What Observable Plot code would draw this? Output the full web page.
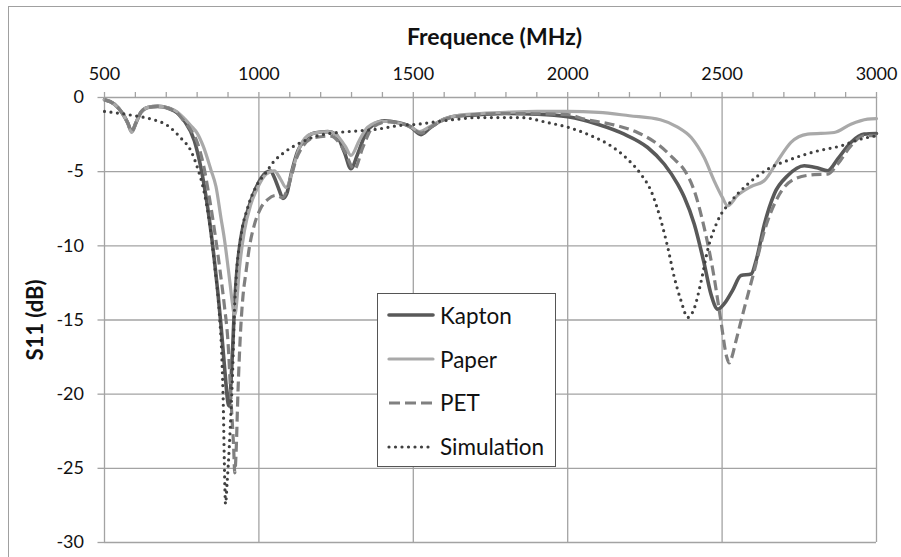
<!DOCTYPE html>
<html>
<head>
<meta charset="utf-8">
<script src="https://cdn.jsdelivr.net/npm/d3@7"></script>
<script src="https://cdn.jsdelivr.net/npm/@observablehq/plot@0.6"></script>
<style>
  html, body { margin: 0; padding: 0; background: #fff; }
  #wrap { position: relative; width: 901px; height: 557px; overflow: hidden; font-family: Lato, "Open Sans", sans-serif; }
  #border { position: absolute; left: 8px; top: 6px; width: 1000px; height: 1000px; border: 1.3px solid #a0a0a0; pointer-events: none; }
  #chart { position: absolute; left: 0; top: 0; }
  #legend { position: absolute; left: 377px; top: 293px; width: 177px; height: 172px; border: 1.3px solid #555; background: #fff; }
  .item { position: absolute; left: 0; height: 30px; display: flex; align-items: center; }
  .item svg { margin-left: 9px; }
  .item span { margin-left: 5px; font-size: 22.5px; color: #111; }
</style>
</head>
<body>
<div id="wrap">
  <div id="chart"></div>
  <div id="border"></div>
  <div id="legend"></div>
</div>
<script>
// ---- data ----
const xTitle = "Frequence (MHz)";
const yTitle = "S11 (dB)";
const xTicks = [500, 1000, 1500, 2000, 2500, 3000];
const xMinorTicks = [600, 700, 800, 900, 1100, 1200, 1300, 1400, 1600, 1700, 1800, 1900, 2100, 2200, 2300, 2400, 2600, 2700, 2800, 2900];
const yTicks = [0, -5, -10, -15, -20, -25, -30];
const seriesNames = ["Kapton", "Paper", "PET", "Simulation"];

const kaptonFreq = [500, 532, 559, 575, 588, 602, 618, 640, 672, 726, 758, 791, 812, 834, 856, 877, 890, 900, 904, 910, 915, 920, 926, 942, 964, 991, 1023, 1038, 1050, 1065, 1078, 1090, 1104, 1126, 1147, 1179, 1223, 1250, 1277, 1298, 1320, 1347, 1374, 1406, 1449, 1492, 1525, 1557, 1600, 1644, 1708, 1795, 1903, 2000, 2097, 2183, 2259, 2313, 2356, 2378, 2410, 2442, 2464, 2486, 2507, 2534, 2561, 2594, 2610, 2637, 2669, 2712, 2766, 2810, 2842, 2874, 2917, 2960, 3000];
const kaptonS11 = [-0.15, -0.45, -1.1, -1.7, -2.3, -1.7, -1.0, -0.67, -0.6, -0.9, -1.57, -2.92, -4.72, -7.4, -11.0, -15.3, -18.5, -20.6, -20.8, -19.0, -16.9, -14.5, -12.4, -9.4, -7.6, -6.07, -5.06, -4.95, -5.4, -6.2, -6.8, -6.5, -5.2, -3.6, -2.9, -2.4, -2.3, -2.5, -3.7, -4.8, -3.8, -2.36, -1.8, -1.57, -1.69, -2.0, -2.5, -2.0, -1.46, -1.23, -1.17, -1.08, -1.12, -1.3, -1.8, -2.47, -3.37, -4.5, -5.84, -6.74, -8.54, -11.2, -13.26, -14.27, -13.9, -13.0, -12.0, -11.9, -11.0, -8.54, -6.5, -5.28, -4.6, -4.76, -4.94, -4.16, -3.03, -2.47, -2.43];

const paperFreq = [500, 532, 559, 575, 588, 602, 618, 640, 672, 726, 758, 780, 800, 820, 845, 861, 877, 888, 904, 915, 920, 925, 937, 953, 974, 996, 1023, 1050, 1070, 1088, 1095, 1109, 1131, 1169, 1223, 1255, 1280, 1298, 1325, 1352, 1400, 1450, 1490, 1520, 1555, 1600, 1650, 1700, 1800, 1900, 2000, 2100, 2200, 2300, 2356, 2400, 2421, 2442, 2474, 2500, 2518, 2550, 2594, 2637, 2680, 2723, 2777, 2863, 2917, 2971, 3000];
const paperS11 = [-0.15, -0.45, -1.1, -1.7, -2.35, -1.7, -1.0, -0.67, -0.6, -0.85, -1.4, -1.9, -2.4, -3.3, -4.9, -6.0, -8.1, -9.5, -12.1, -14.0, -14.7, -14.4, -11.5, -9.0, -7.2, -6.07, -5.17, -4.94, -5.5, -6.07, -5.9, -4.9, -3.4, -2.45, -2.3, -2.6, -3.3, -3.9, -2.9, -2.0, -1.6, -1.7, -1.95, -2.3, -1.95, -1.45, -1.2, -1.1, -1.0, -0.94, -0.94, -1.0, -1.23, -1.5, -2.0, -2.7, -3.3, -4.05, -5.6, -6.7, -7.3, -6.6, -6.0, -5.6, -4.27, -3.03, -2.47, -2.36, -1.8, -1.46, -1.42];

const petFreq = [500, 532, 559, 575, 588, 602, 618, 640, 672, 726, 758, 780, 800, 820, 840, 860, 875, 888, 900, 910, 918, 922, 926, 932, 940, 948, 958, 970, 985, 1005, 1030, 1055, 1077, 1090, 1104, 1120, 1136, 1179, 1233, 1277, 1309, 1336, 1369, 1417, 1482, 1525, 1557, 1600, 1650, 1700, 1800, 1900, 2000, 2054, 2140, 2226, 2291, 2345, 2378, 2410, 2442, 2474, 2496, 2515, 2523, 2530, 2545, 2572, 2604, 2637, 2680, 2734, 2799, 2842, 2874, 2917, 2960, 3000];
const petS11 = [-0.15, -0.45, -1.1, -1.7, -2.3, -1.7, -1.0, -0.67, -0.6, -0.9, -1.6, -2.2, -3.0, -4.5, -6.8, -9.5, -11.8, -14.0, -16.5, -20.5, -23.5, -25.3, -24.0, -20.0, -16.0, -13.5, -11.8, -10.0, -8.6, -7.5, -6.85, -6.6, -6.75, -6.3, -5.4, -4.2, -3.5, -2.7, -2.6, -3.6, -4.85, -3.4, -2.0, -1.64, -1.86, -2.4, -2.0, -1.5, -1.25, -1.15, -1.08, -1.1, -1.15, -1.46, -1.8, -2.36, -3.14, -4.16, -4.9, -6.3, -8.77, -12.1, -15.06, -17.5, -17.9, -17.6, -16.4, -14.2, -11.7, -9.0, -6.74, -5.5, -5.2, -5.17, -4.5, -3.26, -2.58, -2.58];

const simFreq = [500, 553, 597, 651, 705, 748, 780, 802, 823, 839, 856, 872, 880, 885, 888, 892, 897, 904, 910, 915, 920, 927, 942, 964, 991, 1023, 1045, 1082, 1136, 1190, 1255, 1320, 1385, 1449, 1514, 1579, 1644, 1708, 1849, 1935, 2000, 2076, 2140, 2194, 2237, 2270, 2302, 2324, 2345, 2367, 2389, 2410, 2432, 2453, 2486, 2529, 2583, 2648, 2723, 2810, 2885, 2950, 3000];
const simS11 = [-0.94, -1.08, -1.23, -1.45, -1.9, -2.75, -3.6, -4.8, -6.4, -8.3, -11.2, -14.6, -17.5, -21.0, -24.5, -27.4, -26.0, -23.6, -21.0, -18.5, -14.8, -12.0, -9.3, -7.4, -6.0, -5.06, -4.4, -3.7, -3.03, -2.58, -2.36, -2.25, -2.13, -1.9, -1.8, -1.62, -1.46, -1.35, -1.35, -1.69, -2.0, -2.58, -3.26, -4.16, -5.17, -6.3, -8.3, -10.1, -12.1, -13.7, -14.83, -14.2, -12.4, -10.3, -8.3, -7.0, -5.84, -4.83, -4.16, -3.6, -3.26, -2.8, -2.58];

// ---- styles ----
const styles = {
  Kapton:     {stroke: "#595959", strokeWidth: 3.6, dash: null, cap: "round"},
  Paper:      {stroke: "#a9a9a9", strokeWidth: 3.2, dash: null, cap: "round"},
  PET:        {stroke: "#808080", strokeWidth: 3.2, dash: "10,5", cap: "butt"},
  Simulation: {stroke: "#404040", strokeWidth: 3.2, dash: "0,6.5", cap: "round"}
};

const table = (fs, vs) => fs.map((f, i) => ({f, v: vs[i]}));
const series = {
  Kapton: table(kaptonFreq, kaptonS11),
  Paper: table(paperFreq, paperS11),
  PET: table(petFreq, petS11),
  Simulation: table(simFreq, simS11)
};

const gridColor = "#a3a3a3";
const lineMark = (name) => {
  const s = styles[name];
  return Plot.line(series[name], {
    x: "f", y: "v", curve: "monotone-x",
    stroke: s.stroke, strokeWidth: s.strokeWidth,
    strokeDasharray: s.dash || undefined, strokeLinecap: s.cap, strokeLinejoin: "round"
  });
};

const chart = Plot.plot({
  width: 901, height: 557,
  marginLeft: 104, marginRight: 25, marginTop: 97, marginBottom: 15,
  style: {fontFamily: "Lato, 'Open Sans', sans-serif", background: "transparent", color: "#111"},
  x: {type: "linear", domain: [500, 3000], axis: null},
  y: {type: "linear", domain: [-30, 0], axis: null},
  marks: [
    Plot.gridY(yTicks, {stroke: gridColor, strokeOpacity: 1, strokeWidth: 1.3}),
    Plot.gridX(xTicks, {stroke: gridColor, strokeOpacity: 1, strokeWidth: 1.3}),
    Plot.axisX(xMinorTicks, {anchor: "top", tickSize: 6, text: null, stroke: gridColor, strokeWidth: 1.3, strokeOpacity: 1, label: null}),
    Plot.axisX(xTicks, {anchor: "top", tickSize: 6, tickPadding: 12, fontSize: 18, tickFormat: d => String(d), stroke: gridColor, strokeWidth: 1.3, strokeOpacity: 1, label: null, fill: "#111"}),
    Plot.axisY(yTicks, {anchor: "left", tickSize: 6.5, tickPadding: 14, fontSize: 18, tickFormat: d => String(d), stroke: gridColor, strokeWidth: 1.3, strokeOpacity: 1, label: null, fill: "#111"}),
    lineMark("Kapton"),
    lineMark("Paper"),
    lineMark("PET"),
    lineMark("Simulation"),
    Plot.text([xTitle], {frameAnchor: "top", dy: -60, dx: 4, fontSize: 23, fontWeight: "bold", fill: "#111", lineAnchor: "middle"}),
    Plot.text([yTitle], {frameAnchor: "left", dx: -69, rotate: -90, fontSize: 22, fontWeight: "bold", fill: "#111", lineAnchor: "middle", textAnchor: "middle"})
  ]
});
document.getElementById("chart").appendChild(chart);

// ---- legend ----
const legend = document.getElementById("legend");
const tops = [6, 50, 93.5, 137.5];
seriesNames.forEach((name, i) => {
  const s = styles[name];
  const item = document.createElement("div");
  item.className = "item";
  item.style.top = tops[i] + "px";
  const dash = name === "PET" ? "11,5" : (s.dash || "");
  item.innerHTML = `<svg width="48" height="10"><line x1="2" y1="5" x2="46" y2="5" stroke="${s.stroke}" stroke-width="${s.strokeWidth}" stroke-dasharray="${dash}" stroke-linecap="${s.cap}"/></svg><span>${name}</span>`;
  legend.appendChild(item);
});
</script>
</body>
</html>
